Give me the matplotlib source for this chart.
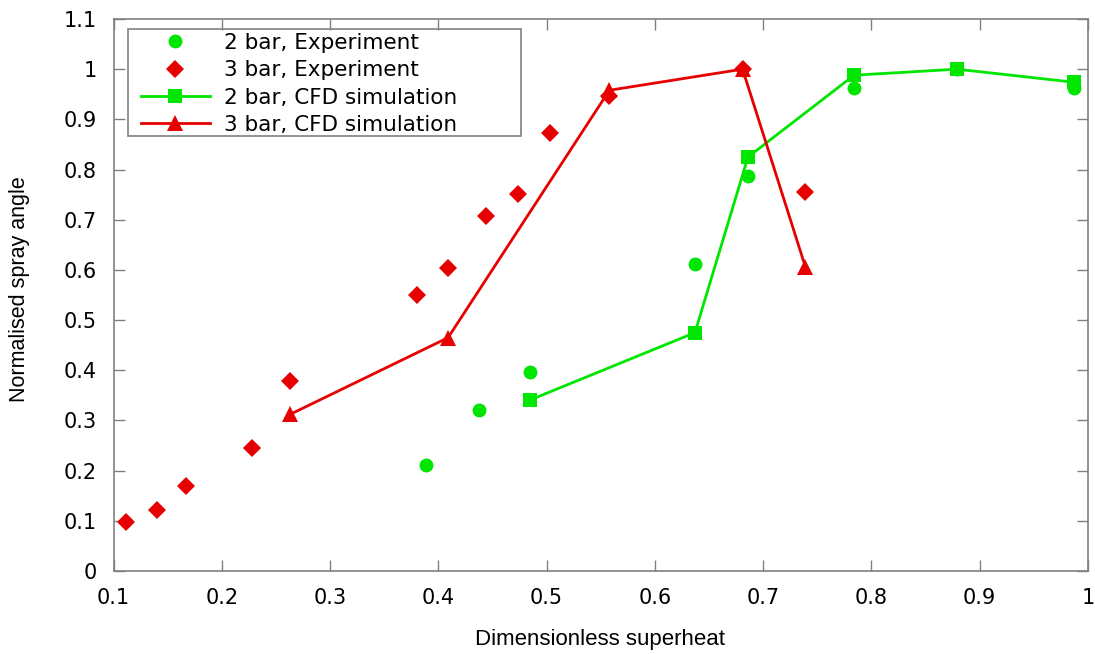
import matplotlib
matplotlib.use("Agg")
import matplotlib.pyplot as plt
from matplotlib.patches import Rectangle

# 2 bar, Experiment
exp2_x = [0.389, 0.4375, 0.485, 0.637, 0.686, 0.784, 0.879, 0.987]
exp2_y = [0.212, 0.321, 0.397, 0.611, 0.787, 0.963, 1.0, 0.962]
# 3 bar, Experiment
exp3_x = [0.112, 0.140, 0.167, 0.228, 0.263, 0.380, 0.409, 0.444, 0.4735, 0.503, 0.558, 0.681, 0.739]
exp3_y = [0.097, 0.122, 0.170, 0.246, 0.378, 0.550, 0.604, 0.707, 0.751, 0.873, 0.947, 1.0, 0.756]
# 2 bar, CFD simulation
cfd2_x = [0.485, 0.637, 0.686, 0.784, 0.879, 0.987]
cfd2_y = [0.341, 0.475, 0.825, 0.988, 1.0, 0.974]
# 3 bar, CFD simulation
cfd3_x = [0.263, 0.409, 0.558, 0.681, 0.739]
cfd3_y = [0.312, 0.465, 0.958, 1.0, 0.606]

xticks = [0.1, 0.2, 0.3, 0.4, 0.5, 0.6, 0.7, 0.8, 0.9, 1.0]
xticklabels = ["0.1", "0.2", "0.3", "0.4", "0.5", "0.6", "0.7", "0.8", "0.9", "1"]
yticks = [0, 0.1, 0.2, 0.3, 0.4, 0.5, 0.6, 0.7, 0.8, 0.9, 1.0, 1.1]
yticklabels = ["0", "0.1", "0.2", "0.3", "0.4", "0.5", "0.6", "0.7", "0.8", "0.9", "1", "1.1"]

GREEN = "#00e600"
RED = "#e60000"
GRAY = "#808080"

W, H = 1095, 654
fig = plt.figure(figsize=(W / 100, H / 100), dpi=100)
AX_L, AX_R, AX_T, AX_B = 113.5, 1088, 19, 571
ax = fig.add_axes([AX_L / W, (H - AX_B) / H, (AX_R - AX_L) / W, (AX_B - AX_T) / H])

def axfrac(px, py):
    return ((px - AX_L) / (AX_R - AX_L), (AX_B - py) / (AX_B - AX_T))

ax.plot(exp2_x, exp2_y, linestyle="none", marker="o", markersize=10, color=GREEN,
        markeredgewidth=0, label="2 bar, Experiment")
ax.plot(exp3_x, exp3_y, linestyle="none", marker="D", markersize=9, color=RED,
        markeredgewidth=0, label="3 bar, Experiment")
ax.plot(cfd2_x, cfd2_y, linestyle="-", linewidth=2, marker="s", markersize=10, color=GREEN,
        markeredgewidth=0, label="2 bar, CFD simulation")
ax.plot(cfd3_x, cfd3_y, linestyle="-", linewidth=2, marker="^", markersize=11, color=RED,
        markeredgewidth=0, label="3 bar, CFD simulation")

ax.set_xlim(0.1, 1.0)
ax.set_ylim(0, 1.1)
ax.set_xticks(xticks)
ax.set_xticklabels(xticklabels, fontsize=15, family="DejaVu Sans")
ax.set_yticks(yticks)
ax.set_yticklabels(yticklabels, fontsize=15, family="DejaVu Sans")
ax.tick_params(direction="in", length=8, width=1, color=GRAY, top=True, right=True,
               labeltop=False, labelright=False)
ax.tick_params(axis="x", pad=12)
ax.tick_params(axis="y", pad=12)
for s in ax.spines.values():
    s.set_color(GRAY)
    s.set_linewidth(1.2)

fig.text(600 / W, 1 - 640 / H, "Dimensionless superheat", ha="center", va="center",
         fontsize=16, family="Liberation Sans")
fig.text(20 / W, 1 - 289 / H, "Normalised spray angle", ha="center", va="center",
         rotation=90, fontsize=15.5, family="Liberation Sans")

leg = ax.legend(loc="upper left", bbox_to_anchor=axfrac(141, 33),
                prop={"family": "DejaVu Sans", "size": 15.5},
                frameon=False, borderaxespad=0, handlelength=3.2,
                handletextpad=0.65, labelspacing=0.34, borderpad=0)
x0, y0 = axfrac(128, 136)
x1, y1 = axfrac(521, 29)
ax.add_patch(Rectangle((x0, y0), x1 - x0, y1 - y0, transform=ax.transAxes,
                       fill=False, edgecolor=GRAY, linewidth=1.2, zorder=5, clip_on=False))

fig.savefig("out.png", dpi=100)
